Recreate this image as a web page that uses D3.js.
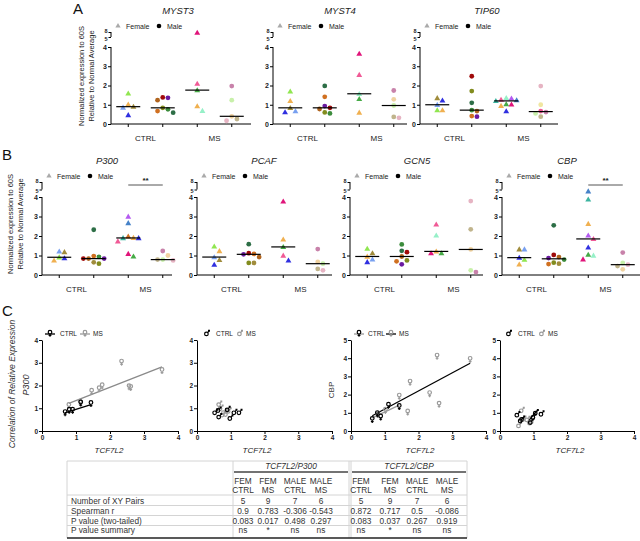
<!DOCTYPE html>
<html><head><meta charset="utf-8">
<script src="https://cdn.jsdelivr.net/npm/d3@7"></script>
<style>body{margin:0;background:#fff}svg{display:block;font-family:"Liberation Sans",Arial,sans-serif}</style>
</head><body><svg id="c" width="640" height="541"></svg>
<script>
// ---------------- DATA ----------------
const GROUPS = ["CTRL-F", "CTRL-M", "MS-F", "MS-M"];
const GROUP_LABELS = ["CTRL", "MS"];
const Y_TICKS_LOW = [0, 1, 2, 3, 4];
const Y_TICKS_HIGH = [5, 8];

// values per group: [CTRL female, CTRL male, MS female, MS male]
const MYST3 = [[0.9, 1.59, 0.86, 1.02, 0.47], [1.36, 1.24, 1.38, 0.76, 0.84, 0.59, 0.67], [7.6, 2.1, 1.76, 0.93, 0.69], [1.97, 1.24, 0.4, 0.26, 0.17]];
const MYST4 = [[0.84, 1.7, 1.2, 0.62, 0.67], [1.98, 1.41, 0.93, 0.78, 0.84, 0.55, 0.6], [3.66, 2.56, 1.57, 1.31, 0.6], [1.74, 1.28, 0.96, 0.32, 0.37]];
const TIP60 = [[1.35, 1.23, 1.0, 0.72, 0.72], [2.48, 1.71, 1.1, 0.72, 0.67, 0.38, 0.41], [1.33, 1.36, 1.24, 1.2, 1.27, 1.03, 1.02, 0.95, 0.67], [1.97, 1.0, 0.62, 0.67, 0.38, 0.55]];
const P300 = [[1.21, 1.18, 0.91, 0.75, 0.87], [2.32, 0.97, 0.93, 0.84, 0.84, 0.84, 0.58, 0.65], [3.0, 2.67, 1.9, 1.91, 1.98, 1.9, 1.73, 0.96, 1.09], [1.23, 1.0, 0.79, 0.75, 0.79]];
const PCAF = [[1.23, 1.47, 0.92, 0.78, 0.53], [1.58, 1.12, 1.06, 0.92, 1.08, 0.62, 0.62], [3.78, 1.83, 1.44, 1.0, 0.75], [1.33, 0.67, 0.58, 0.24, 0.31]];
const GCN5 = [[1.35, 1.12, 0.95, 0.67, 0.8], [1.57, 1.17, 1.24, 0.75, 0.95, 0.55, 0.7], [2.6, 2.03, 1.12, 1.12, 1.21], [3.79, 2.34, 1.31, 0.24, 0.15]];
const CBP = [[1.32, 1.32, 0.89, 0.79, 0.55], [2.55, 1.03, 0.87, 0.92, 0.79, 0.63, 0.56, 0.58], [4.77, 3.88, 2.63, 2.03, 1.85, 1.42, 1.05, 1.0, 0.81], [1.15, 0.53, 0.62, 0.46, 0.29]];

// subject colours (style)
const C = {olive:"#a08c3c", lgreen:"#90e650", lblue:"#78a0f0", tan:"#f0b050", blue:"#3030e0",
  purple:"#6a1aa0", brown:"#b0641e", dred:"#a00a0a", green:"#3c8c3c", olive2:"#828c1e", dkgreen:"#2d6e46", orange:"#d07020",
  magenta:"#e0147a", pink:"#f05a96", green2:"#46aa46", mint:"#96f0c8", violet:"#b45af0", teal:"#3cb4a0", steel:"#4682c8",
  ppurple:"#c882aa", pgreen:"#c8f0aa", tanl:"#f0d2a0", khaki:"#c0b48c", ppink:"#e6b4c3", lyellow:"#f0e6a0"};
const MYST3_COL = [["olive","lgreen","lblue","tan","blue"],["purple","brown","dred","green","olive2","dkgreen","orange"],["magenta","pink","green2","tan","mint"],["ppurple","pgreen","tanl","khaki","ppink"]];
const MYST4_COL = [["olive","lgreen","tan","blue","lblue"],["dkgreen","orange","purple","brown","dred","green","olive2"],["magenta","pink","mint","green2","tan"],["ppurple","tanl","pgreen","ppink","khaki"]];
const TIP60_COL = [["olive","blue","lblue","lgreen","tan"],["dred","olive2","dkgreen","green","brown","purple","orange"],["violet","mint","steel","teal","pink","green2","magenta","tan","blue"],["ppink","lyellow","ppurple","pink","khaki","pgreen"]];
const P300_COL = [["lblue","olive","lgreen","tan","blue"],["dkgreen","orange","green","brown","purple","dred","olive2","olive"],["violet","steel","teal","tan","orange","blue","pink","green2","magenta"],["ppurple","tanl","pgreen","ppink","khaki"]];
const PCAF_COL = [["tan","lgreen","lblue","olive","blue"],["dkgreen","dred","purple","brown","orange","olive2","olive"],["magenta","tan","green2","pink","blue"],["ppurple","tanl","pgreen","ppink","khaki"]];
const GCN5_COL = [["lgreen","olive","tan","blue","lblue"],["green","dred","dkgreen","olive2","brown","purple","orange"],["pink","mint","green2","magenta","tan"],["ppink","khaki","tanl","pgreen","ppurple"]];
const CBP_COL = [["olive","lblue","blue","lgreen","tan"],["dkgreen","dred","purple","brown","green","olive2","orange","olive"],["steel","teal","tan","violet","pink","blue","green2","mint","magenta"],["ppurple","ppink","pgreen","khaki","tanl"]];

// Panel C: TCF7L2 (x) vs target (y)
const P300_F_CTRL_X = [0.68, 0.8, 0.9, 1.14, 1.44];
const P300_F_CTRL_Y = [0.82, 0.92, 0.92, 1.24, 1.22];
const P300_F_MS_X = [0.79, 1.12, 1.46, 1.68, 1.77, 2.34, 2.56, 2.61, 3.53];
const P300_F_MS_Y = [1.13, 1.28, 1.76, 1.87, 2.0, 3.04, 1.96, 1.93, 2.67];
const P300_F_CTRL_FIT = [[0.67, 0.8], [1.44, 1.16]];
const P300_F_MS_FIT = [[0.79, 1.21], [3.53, 2.82]];
const P300_M_CTRL_X = [0.54, 0.64, 0.66, 0.91, 0.99, 1.11, 1.26];
const P300_M_CTRL_Y = [0.84, 0.94, 0.65, 0.97, 0.59, 0.84, 0.84];
const P300_M_MS_X = [0.66, 0.7, 0.76, 0.86, 0.94, 0.8];
const P300_M_MS_Y = [1.2, 1.02, 0.74, 0.76, 0.9, 0.85];
const CBP_F_CTRL_X = [0.63, 0.78, 0.88, 1.11, 1.43];
const CBP_F_CTRL_Y = [0.65, 0.97, 0.78, 1.43, 1.36];
const CBP_F_MS_X = [0.8, 1.02, 1.43, 1.68, 1.75, 2.33, 2.55, 2.61, 3.53];
const CBP_F_MS_Y = [0.92, 1.15, 1.93, 1.06, 2.7, 2.07, 4.13, 1.49, 3.95];
const CBP_F_CTRL_FIT = [[0.63, 0.72], [1.43, 1.42]];
const CBP_F_MS_FIT = [[0.63, 0.84], [3.53, 3.72]];
const CBP_M_CTRL_X = [0.52, 0.62, 0.66, 0.92, 1.0, 1.07, 1.24];
const CBP_M_CTRL_Y = [0.92, 0.6, 0.68, 0.51, 0.79, 1.03, 0.97];
const CBP_M_CTRL_FIT = [[0.82, 0.48], [1.1, 1.12]];
const CBP_M_MS_X = [0.65, 0.57, 0.7, 0.82, 0.9, 0.95];
const CBP_M_MS_Y = [1.16, 0.33, 0.68, 0.66, 0.48, 0.55];

// Table
const ROW_LABELS = ["Number of XY Pairs", "Spearman r", "P value (two-tailed)", "P value summary"];
const COL_GROUPS = ["TCF7L2/P300", "TCF7L2/CBP"];
const COL_HEAD1 = ["FEM", "FEM", "MALE", "MALE", "FEM", "FEM", "MALE", "MALE"];
const COL_HEAD2 = ["CTRL", "MS", "CTRL", "MS", "CTRL", "MS", "CTRL", "MS"];
const N_PAIRS = ["5", "9", "7", "6", "5", "9", "7", "6"];
const SPEARMAN = ["0.9", "0.783", "-0.306", "-0.543", "0.872", "0.717", "0.5", "-0.086"];
const P_VALUES = ["0.083", "0.017", "0.498", "0.297", "0.083", "0.037", "0.267", "0.919"];
const P_SUMMARY = ["ns", "*", "ns", "ns", "ns", "*", "ns", "ns"];

// ---------------- DRAW ----------------
const svg = d3.select("#c");
const FONT = '"Liberation Sans", Arial, sans-serif';

function styleAxis(sel, fs) {
  sel.selectAll("path,line").attr("stroke", "#000").attr("stroke-width", 1);
  sel.selectAll("text").attr("font-size", fs).attr("font-weight", "bold").attr("fill", "#222").attr("font-family", FONT);
}

function swarmX(vals, yScale, cx, d) {
  const order = vals.map((v, i) => i).sort((a, b) => vals[b] - vals[a]);
  const placed = [];
  const xs = [];
  order.forEach(i => {
    const yy = yScale(vals[i]);
    const cands = [0];
    for (let k = 1; k < 8; k++) cands.push(k * d, -k * d);
    let off = 0;
    for (const c of cands) {
      const hit = placed.some(p => Math.abs(p.x - (cx + c)) < d * 0.95 && Math.abs(p.y - yy) < d * 0.95);
      if (!hit) { off = c; break; }
    }
    xs[i] = cx + off;
    placed.push({x: cx + off, y: yy});
  });
  return xs;
}

function dotPanel(cfg) {
  const g = svg.append("g");
  const y = d3.scaleLinear().domain([0, 4, 5, 8]).range([cfg.y0, cfg.y4, cfg.y5, cfg.y8]);
  const x = d3.scalePoint().domain(GROUPS).range([cfg.x0, cfg.x0 + 138]).padding(0.5);
  // y axes
  const low = g.append("g").attr("transform", `translate(${cfg.x0},0)`)
    .call(d3.axisLeft(y).tickValues(Y_TICKS_LOW).tickFormat(d3.format("d")).tickSize(3).tickSizeOuter(0).tickPadding(1));
  low.select(".domain").attr("d", `M0,${cfg.y0}V${cfg.y4}`);
  styleAxis(low, 7);
  const high = g.append("g").attr("transform", `translate(${cfg.x0},0)`)
    .call(d3.axisLeft(y).tickValues(Y_TICKS_HIGH).tickFormat(d3.format("d")).tickSize(2.5).tickSizeOuter(0).tickPadding(1));
  high.select(".domain").attr("d", `M0,${cfg.y5}V${cfg.y8}`);
  styleAxis(high, 5.5);
  high.selectAll(".tick text").attr("dy", d => d === 8 ? "0.05em" : "0.55em");
  // x axis
  g.append("line").attr("x1", cfg.x0).attr("x2", cfg.x0 + cfg.axisW).attr("y1", cfg.y0).attr("y2", cfg.y0).attr("stroke", "#000");
  g.selectAll(".gt").data(GROUPS).join("line").attr("x1", d => x(d)).attr("x2", d => x(d))
    .attr("y1", cfg.y0).attr("y2", cfg.y0 + 3).attr("stroke", "#000");
  GROUP_LABELS.forEach((lab, i) => {
    g.append("text").attr("x", (x(GROUPS[2 * i]) + x(GROUPS[2 * i + 1])) / 2).attr("y", cfg.y0 + 17)
      .attr("text-anchor", "middle").attr("font-size", 8).attr("fill", "#222").text(lab);
  });
  // title
  g.append("text").attr("x", cfg.titleX).attr("y", cfg.titleY).attr("text-anchor", "middle")
    .attr("font-size", 9.5).attr("font-style", "italic").attr("fill", "#222").text(cfg.title);
  // legend
  const lx = cfg.x0 + 7, ly = cfg.y8 - 6;
  g.append("path").attr("d", d3.symbol(d3.symbolTriangle, 12)()).attr("transform", `translate(${lx},${ly})`).attr("fill", "#aaa");
  g.append("text").attr("x", lx + 8).attr("y", ly + 2.5).attr("font-size", 7).attr("fill", "#222").text("Female");
  g.append("circle").attr("cx", lx + 41).attr("cy", ly).attr("r", 2.3).attr("fill", "#000");
  g.append("text").attr("x", lx + 49).attr("y", ly + 2.5).attr("font-size", 7).attr("fill", "#222").text("Male");
  // points
  cfg.data.forEach((vals, gi) => {
    const cx = x(GROUPS[gi]);
    const xs = swarmX(vals, y, cx, 5.2);
    const fem = gi % 2 === 0;
    vals.forEach((v, i) => {
      const col = C[cfg.cols[gi][i]];
      if (fem) {
        g.append("path").attr("d", d3.symbol(d3.symbolTriangle, 15)()).attr("transform", `translate(${xs[i]},${y(v) + 0.5})`).attr("fill", col);
      } else {
        g.append("circle").attr("cx", xs[i]).attr("cy", y(v)).attr("r", 2.4).attr("fill", col);
      }
    });
    const med = d3.median(vals);
    g.append("line").attr("x1", cx - 12).attr("x2", cx + 12).attr("y1", y(med)).attr("y2", y(med)).attr("stroke", "#000").attr("stroke-width", 1.2);
  });
  if (cfg.sig) {
    const x1 = x("MS-F"), x2 = x("MS-M");
    g.append("line").attr("x1", x1).attr("x2", x2).attr("y1", cfg.y8 + 3).attr("y2", cfg.y8 + 3).attr("stroke", "#555").attr("stroke-width", 1);
    g.append("text").attr("x", (x1 + x2) / 2).attr("y", cfg.y8 + 0.5).attr("text-anchor", "middle").attr("font-size", 8).attr("font-weight", "bold").attr("fill", "#222").text("**");
  }
}

// Panel letters
[["A", 73, 14], ["B", 2, 160], ["C", 2, 316]].forEach(([t, px, py]) =>
  svg.append("text").attr("x", px).attr("y", py).attr("font-size", 15).attr("fill", "#111").text(t));

// Y labels A and B
function yLab2(cx, cy) {
  const t = svg.append("text").attr("transform", `translate(${cx},${cy}) rotate(-90)`).attr("text-anchor", "middle").attr("font-size", 7.5).attr("fill", "#222");
  t.append("tspan").attr("x", 0).attr("dy", 0).text("Normalized expression to 60S");
  t.append("tspan").attr("x", 0).attr("dy", 9.5).text("Relative to Normal Average");
}
yLab2(84, 76);
yLab2(13, 224);

const A_Y = {y0: 124, y4: 47, y5: 37, y8: 32};
const B_Y = {y0: 275, y4: 197, y5: 189.5, y8: 182};
dotPanel({...A_Y, x0: 111, axisW: 140, title: "MYST3", titleX: 178, titleY: 14, data: MYST3, cols: MYST3_COL});
dotPanel({...A_Y, x0: 273, axisW: 134, title: "MYST4", titleX: 340, titleY: 14, data: MYST4, cols: MYST4_COL});
dotPanel({...A_Y, x0: 420, axisW: 138, title: "TIP60", titleX: 487, titleY: 14, data: TIP60, cols: TIP60_COL});
dotPanel({...B_Y, x0: 42, axisW: 130, title: "P300", titleX: 107, titleY: 164, data: P300, cols: P300_COL, sig: true});
dotPanel({...B_Y, x0: 197, axisW: 135, title: "PCAF", titleX: 264, titleY: 164, data: PCAF, cols: PCAF_COL});
dotPanel({...B_Y, x0: 350, axisW: 133, title: "GCN5", titleX: 417, titleY: 164, data: GCN5, cols: GCN5_COL});
dotPanel({...B_Y, x0: 502, axisW: 138, title: "CBP", titleX: 567, titleY: 164, data: CBP, cols: CBP_COL, sig: true});

// ---------- Panel C ----------
function femSym(g, cx, cy, col) {
  const s = g.append("g").attr("transform", `translate(${cx},${cy})`).attr("stroke", col).attr("fill", "none").attr("stroke-width", 1.2);
  s.append("circle").attr("cx", 0).attr("cy", -0.8).attr("r", 1.8);
  s.append("line").attr("x1", 0).attr("x2", 0).attr("y1", 1.0).attr("y2", 3.8);
  s.append("line").attr("x1", -1.4).attr("x2", 1.4).attr("y1", 2.4).attr("y2", 2.4);
}
function maleSym(g, cx, cy, col) {
  const s = g.append("g").attr("transform", `translate(${cx},${cy})`).attr("stroke", col).attr("fill", "none").attr("stroke-width", 1.2);
  s.append("circle").attr("cx", -0.6).attr("cy", 0.9).attr("r", 1.8);
  s.append("path").attr("d", "M0.6,-0.3L2.4,-2.6M1.0,-2.6H2.4V-1.2");
}

function corrPanel(cfg) {
  const g = svg.append("g");
  const x = d3.scaleLinear().domain([0, 4]).range([cfg.x0, cfg.x4]);
  const y = d3.scaleLinear().domain([0, cfg.yMax]).range([431, 340]);
  const ax = g.append("g").attr("transform", "translate(0,431)").call(d3.axisBottom(x).tickValues([0, 1, 2, 3, 4]).tickFormat(d3.format("d")).tickSize(3).tickSizeOuter(0).tickPadding(1));
  styleAxis(ax, 6.5);
  const ay = g.append("g").attr("transform", `translate(${cfg.x0},0)`).call(d3.axisLeft(y).tickValues(d3.range(0, cfg.yMax + 1)).tickFormat(d3.format("d")).tickSize(3).tickSizeOuter(0).tickPadding(1));
  styleAxis(ay, 6.5);
  g.append("text").attr("x", cfg.labX).attr("y", 453).attr("text-anchor", "middle")
    .attr("font-size", 8).attr("font-style", "italic").attr("fill", "#222").text("TCF7L2");
  const sym = cfg.male ? maleSym : femSym;
  // fits
  (cfg.fits || []).forEach(f => {
    g.append("line").attr("x1", x(f.pts[0][0])).attr("y1", y(f.pts[0][1])).attr("x2", x(f.pts[1][0])).attr("y2", y(f.pts[1][1]))
      .attr("stroke", f.col).attr("stroke-width", 1.3);
  });
  cfg.msX.forEach((v, i) => sym(g, x(v), y(cfg.msY[i]), "#9a9a9a"));
  cfg.ctrlX.forEach((v, i) => sym(g, x(v), y(cfg.ctrlY[i]), "#000"));
  // legend
  const ly = 333, L = cfg.leg;
  if (cfg.legLines) {
    g.append("line").attr("x1", L[0] - 5).attr("x2", L[0] + 5).attr("y1", ly + 1).attr("y2", ly + 1).attr("stroke", cfg.legLines[0]).attr("stroke-width", 1.3);
    g.append("line").attr("x1", L[2] - 5).attr("x2", L[2] + 5).attr("y1", ly + 1).attr("y2", ly + 1).attr("stroke", cfg.legLines[1]).attr("stroke-width", 1.3);
  }
  sym(g, L[0], ly, "#000");
  g.append("text").attr("x", L[1]).attr("y", ly + 3).attr("font-size", 6.5).attr("fill", "#222").text("CTRL");
  sym(g, L[2], ly, "#9a9a9a");
  g.append("text").attr("x", L[3]).attr("y", ly + 3).attr("font-size", 6.5).attr("fill", "#222").text("MS");
}

corrPanel({x0: 42, x4: 178, yMax: 4, labX: 109, ctrlX: P300_F_CTRL_X, ctrlY: P300_F_CTRL_Y, msX: P300_F_MS_X, msY: P300_F_MS_Y,
  fits: [{pts: P300_F_MS_FIT, col: "#8a8a8a"}, {pts: P300_F_CTRL_FIT, col: "#000"}], leg: [50, 60, 85, 93], legLines: ["#000", "#9a9a9a"]});
corrPanel({x0: 197, x4: 332, yMax: 4, labX: 257, male: true, ctrlX: P300_M_CTRL_X, ctrlY: P300_M_CTRL_Y, msX: P300_M_MS_X, msY: P300_M_MS_Y,
  leg: [207, 216, 240, 246]});
corrPanel({x0: 351, x4: 486, yMax: 5, labX: 420, ctrlX: CBP_F_CTRL_X, ctrlY: CBP_F_CTRL_Y, msX: CBP_F_MS_X, msY: CBP_F_MS_Y,
  fits: [{pts: CBP_F_CTRL_FIT, col: "#9a9a9a"}, {pts: CBP_F_MS_FIT, col: "#000"}], leg: [359, 368, 391, 399], legLines: ["#9a9a9a", "#000"]});
corrPanel({x0: 500, x4: 634, yMax: 5, labX: 570, male: true, ctrlX: CBP_M_CTRL_X, ctrlY: CBP_M_CTRL_Y, msX: CBP_M_MS_X, msY: CBP_M_MS_Y,
  fits: [{pts: CBP_M_CTRL_FIT, col: "#000"}], leg: [509, 518, 542, 548]});

// C y labels
svg.append("text").attr("transform", "translate(15,384) rotate(-90)").attr("text-anchor", "middle")
  .attr("font-size", 8.5).attr("font-style", "italic").attr("fill", "#333").text("Correlation of Relative Expression");
svg.append("text").attr("transform", "translate(29,385) rotate(-90)").attr("text-anchor", "middle")
  .attr("font-size", 9).attr("font-style", "italic").attr("fill", "#333").text("P300");
svg.append("text").attr("transform", "translate(334,390) rotate(-90)").attr("text-anchor", "middle")
  .attr("font-size", 8).attr("fill", "#333").text("CBP");

// ---------- Table ----------
const tb = svg.append("g").attr("font-size", 8.3).attr("fill", "#333");
const TL = 67, TR = 467, TT = 461, TB = 538;
const colX = [243, 268, 295, 321, 361, 390, 417, 447];
const grpRange = [[233, 349], [351, 467]];
const rowY = [500.5, 510.5, 520.5, 530];
const lineGray = "#d4d4d4";
tb.append("line").attr("x1", TL).attr("x2", TR).attr("y1", TT).attr("y2", TT).attr("stroke", lineGray);
tb.append("line").attr("x1", TL).attr("x2", TL).attr("y1", TT).attr("y2", TB).attr("stroke", lineGray);
[233, 349, 351, TR].forEach(v => tb.append("line").attr("x1", v).attr("x2", v).attr("y1", TT).attr("y2", TB).attr("stroke", lineGray));
[495, 505.5, 515.5, 525.5].forEach(v => tb.append("line").attr("x1", TL).attr("x2", TR).attr("y1", v).attr("y2", v).attr("stroke", lineGray));
COL_GROUPS.forEach((t, i) => {
  const [a, b] = grpRange[i];
  tb.append("text").attr("x", (a + b) / 2).attr("y", 468.5).attr("text-anchor", "middle").attr("font-style", "italic").text(t);
  tb.append("line").attr("x1", a + 1).attr("x2", b - 1).attr("y1", 472).attr("y2", 472).attr("stroke", "#444").attr("stroke-width", 1.6);
});
COL_HEAD1.forEach((t, i) => tb.append("text").attr("x", colX[i]).attr("y", 484).attr("text-anchor", "middle").text(t));
COL_HEAD2.forEach((t, i) => tb.append("text").attr("x", colX[i]).attr("y", 493).attr("text-anchor", "middle").text(t));
ROW_LABELS.forEach((t, i) => tb.append("text").attr("x", 71).attr("y", rowY[i] + 3).text(t));
[N_PAIRS, SPEARMAN, P_VALUES, P_SUMMARY].forEach((row, r) =>
  row.forEach((t, i) => tb.append("text").attr("x", colX[i]).attr("y", rowY[r] + 3).attr("text-anchor", "middle").text(t)));
tb.append("line").attr("x1", TL).attr("x2", TR).attr("y1", TB).attr("y2", TB).attr("stroke", "#222").attr("stroke-width", 1.6);
</script></body></html>
